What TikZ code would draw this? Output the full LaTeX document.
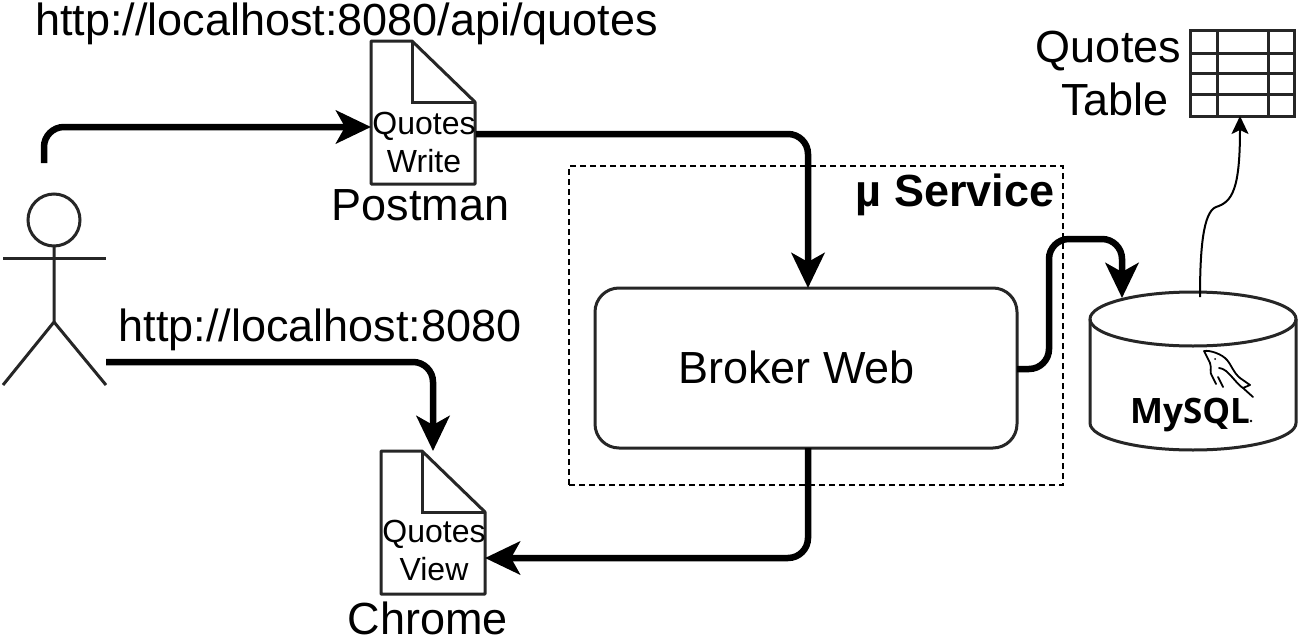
\documentclass[tikz,border=0pt]{standalone}
\usepackage{fontspec}
\setmainfont{Liberation Sans}
\newfontfamily\logofont{Open Sans}
\usetikzlibrary{arrows.meta,calc}
\tikzset{
  x=1pt,y=-1pt,
  line/.style={draw=black!85,line width=3pt},
  docbox/.style={draw=none,minimum width=104pt,minimum height=143pt,inner sep=0pt,outer sep=0pt},
  lbl/.style={inner sep=0pt,outer sep=0pt,anchor=base,text=black},
  conn/.style={draw=black,line width=6.5pt,rounded corners=20pt,-{Stealth[length=35pt,width=33pt,inset=9pt]}},
  thin conn/.style={draw=black,line width=2pt,-{Stealth[length=18pt,width=17pt,inset=4pt]}},
}
\newcommand{\fs}[1]{\fontsize{#1}{#1}\selectfont}
\newcommand{\docshape}[1]{%
  \draw[line,line join=round] (#1.north west) -- ($(#1.north west)+(41,0)$) -- ($(#1.north east)+(0,61)$) -- (#1.south east) -- (#1.south west) -- cycle;
  \draw[line] ($(#1.north west)+(41,0)$) -- ($(#1.north west)+(41,61)$) -- ($(#1.north east)+(0,61)$);
}
\begin{document}
\begin{tikzpicture}
\useasboundingbox[fill=white] (0,0) rectangle (1299,637);

% Actor
\node[circle,line,minimum size=52pt,inner sep=0pt,outer sep=0pt] (head) at (54,220) {};
\coordinate (hip) at (54,322);
\coordinate (armL) at (3,258);
\coordinate (armR) at (106,258);
\coordinate (footL) at (3,385);
\coordinate (footR) at (106,385);
\draw[line] (head.south) -- (hip) -- (footL);
\draw[line] (hip) -- (footR);
\draw[line] (armL) -- (armR);

% Documents
\node[docbox] (postman) at (423,112.5) {};
\docshape{postman}
\node[lbl] (pq) at (424,134) {\fs{32}Quotes};
\node[lbl] (pw) at (424,172) {\fs{32}Write};
\node[lbl] (pn) at (420.5,220) {\fs{45}Postman};

\node[docbox] (chrome) at (433,522.5) {};
\docshape{chrome}
\node[lbl] (cq) at (434,542) {\fs{32}Quotes};
\node[lbl] (cv) at (434,580) {\fs{32}View};
\node[lbl] (cn) at (428,634) {\fs{45}Chrome};

% Service box
\node[draw=black,line width=1.8pt,dash pattern=on 6pt off 4pt,minimum width=494pt,minimum height=319pt,inner sep=0pt,outer sep=0pt] (svc) at (816,325.5) {};
\node[lbl] (svct) at (955,206) {\fs{45}\bfseries µ Service};

\node[line,rounded corners=24pt,minimum width=422pt,minimum height=160pt,inner sep=0pt,outer sep=0pt] (broker) at (806,368) {};
\node[lbl] at (796.5,383) {\fs{45}Broker Web};

% URLs
\node[lbl] (u1) at (346.5,35.5) {\fs{45}http://localhost:8080/api/quotes};
\node[lbl] (u2) at (320,341) {\fs{45}http://localhost:8080};

% Cylinder
\coordinate (cylTL) at (1090,319);
\coordinate (cylTR) at (1296,319);
\coordinate (cylBL) at (1090,423);
\coordinate (cylBR) at (1296,423);
\draw[line,fill=white] (cylTL) arc[start angle=180,end angle=-180,x radius=103pt,y radius=-27pt];
\draw[line] (cylTL) -- (cylBL) arc[start angle=180,end angle=360,x radius=103pt,y radius=27pt] -- (cylTR);
\node[inner sep=0pt,outer sep=0pt] (cyl) at (1193,371) {};
\node[lbl,text=black] (mysql) at (1190,423) {\logofont\fs{35}\bfseries MySQL};
\fill (1251,421) circle (1.4pt);
% dolphin
\draw[black,line width=1.8pt,line join=round,line cap=round]
  (1204,351) .. controls (1210,350) and (1222,354) .. (1227,360)
  .. controls (1232,366) and (1233,372) .. (1240,378)
  -- (1250,385) -- (1243,388) -- (1253,397)
  (1243,388) .. controls (1238,385) and (1232,376) .. (1226,371)
  .. controls (1223,369) and (1221,368) .. (1219,368)
  (1204,351) -- (1210,363) .. controls (1212,368) and (1209,372) .. (1212,376)
  -- (1216,384)
  (1218,377) -- (1223,387);
\fill (1215,359) circle (1pt);

% Table
\node[draw=black!85,line width=3pt,minimum width=104pt,minimum height=86pt,inner sep=0pt,outer sep=0pt] (tbl) at (1242,73) {};
\foreach \yy in {53,73,94} \draw[line] (tbl.west |- 0,\yy) -- (tbl.east |- 0,\yy);
\foreach \xx in {1217,1268} \draw[line] (\xx,0 |- tbl.north) -- (\xx,0 |- tbl.south);
\node[lbl] (t1) at (1108.5,62) {\fs{45}Quotes};
\node[lbl] (t2) at (1115,115) {\fs{45}Table};

% Connectors
\coordinate (aTop) at (44,163);
\coordinate (pIn) at (371,127);
\draw[conn] (aTop) -- (aTop |- pIn) -- (pIn);
\coordinate (pOut) at (476,134);
\coordinate (bTop) at (808,288);
\draw[conn] (pOut) -- (bTop |- pOut) -- (bTop);
\coordinate (aHip) at (106,362);
\coordinate (cTop) at (433,451);
\draw[conn] (aHip) -- (cTop |- aHip) -- (cTop);
\coordinate (bBot) at (808,448);
\coordinate (cIn) at (485,558);
\draw[conn] (bBot) -- (bBot |- cIn) -- (cIn);
\coordinate (bOut) at (1017,369);
\coordinate (cylIn) at (1122,298);
\draw[conn] (bOut) -- (1049,369) -- (1049,239) -- (1122,239) -- (cylIn);
\coordinate (cylOut) at (1200,297);
\coordinate (tIn) at (1240,116);
\draw[thin conn] (cylOut) .. controls (1200,250) and (1203,212) .. (1216,207)
  .. controls (1232,202) and (1240,190) .. (tIn);
\end{tikzpicture}
\end{document}
